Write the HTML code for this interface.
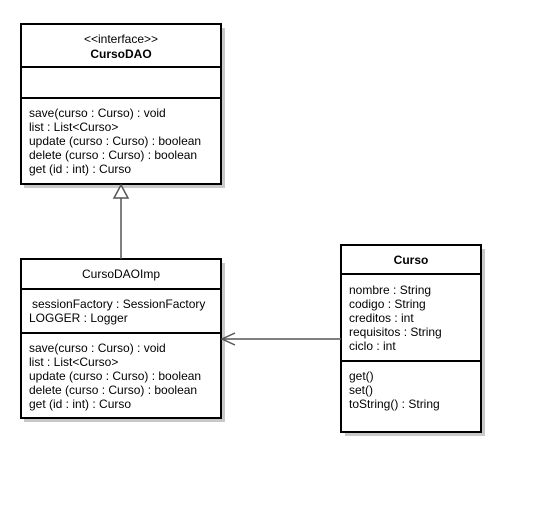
<!DOCTYPE html><html><head><style>
body{margin:0;background:#fff;}
svg text{font-family:"Liberation Sans",Arial,sans-serif;font-size:12px;fill:#000}
</style></head><body>
<svg width="533" height="500" xmlns="http://www.w3.org/2000/svg">
<g fill="#c8c8c8" stroke="none">
<rect x="24" y="28" width="201" height="160"/>
<rect x="24" y="263" width="201" height="159"/>
<rect x="345" y="249" width="140" height="187"/>
</g>
<g fill="#fff" stroke="#000" stroke-width="2">
<rect x="21" y="24" width="200" height="160"/>
<rect x="21" y="259" width="200" height="159"/>
<rect x="341" y="245" width="140" height="187"/>
</g>
<g stroke="#000" stroke-width="2">
<line x1="21" y1="67" x2="221" y2="67"/><line x1="21" y1="98" x2="221" y2="98"/>
<line x1="21" y1="289" x2="221" y2="289"/><line x1="21" y1="333" x2="221" y2="333"/>
<line x1="341" y1="274" x2="481" y2="274"/><line x1="341" y1="361" x2="481" y2="361"/>
</g>
<g stroke="#555" stroke-width="1.5" fill="none">
<line x1="121" y1="198" x2="121" y2="259"/>
<polygon points="121,185 114,198 128,198" fill="#fff"/>
<line x1="222" y1="339" x2="341" y2="339"/>
<polyline points="235,333 222,339 235,345"/>
</g>
<text x="121" y="43" text-anchor="middle" font-size="11">&lt;&lt;interface&gt;&gt;</text>
<text x="121" y="58" text-anchor="middle" font-weight="bold">CursoDAO</text>
<text x="29" y="117">save(curso : Curso) : void</text>
<text x="29" y="131">list : List&lt;Curso&gt;</text>
<text x="29" y="145">update (curso : Curso) : boolean</text>
<text x="29" y="159">delete (curso : Curso) : boolean</text>
<text x="29" y="173">get (id : int) : Curso</text>
<text x="121" y="278" text-anchor="middle">CursoDAOImp</text>
<text x="32" y="308">sessionFactory : SessionFactory</text>
<text x="29" y="322">LOGGER : Logger</text>
<text x="29" y="352">save(curso : Curso) : void</text>
<text x="29" y="366">list : List&lt;Curso&gt;</text>
<text x="29" y="380">update (curso : Curso) : boolean</text>
<text x="29" y="394">delete (curso : Curso) : boolean</text>
<text x="29" y="408">get (id : int) : Curso</text>
<text x="411" y="264" text-anchor="middle" font-weight="bold">Curso</text>
<text x="349" y="294">nombre : String</text>
<text x="349" y="308">codigo : String</text>
<text x="349" y="322">creditos : int</text>
<text x="349" y="336">requisitos : String</text>
<text x="349" y="350">ciclo : int</text>
<text x="349" y="380">get()</text>
<text x="349" y="394">set()</text>
<text x="349" y="408">toString() : String</text>
</svg>
</body></html>
